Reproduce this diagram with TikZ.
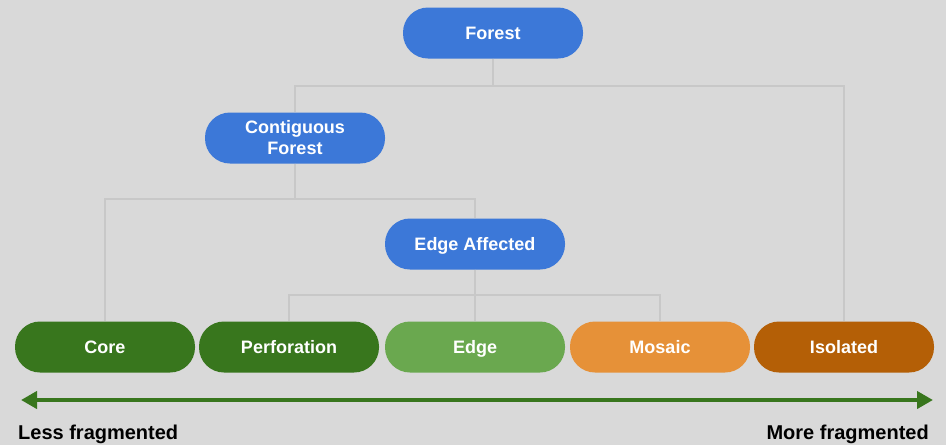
\documentclass[tikz,border=0pt]{standalone}
\usepackage{fontspec}
\setmainfont{Liberation Sans}
\usetikzlibrary{arrows.meta}
\definecolor{bg}{HTML}{D9D9D9}
\definecolor{cblue}{HTML}{3C78D8}
\definecolor{cdgreen}{HTML}{38761D}
\definecolor{clgreen}{HTML}{6AA84F}
\definecolor{corange}{HTML}{E69138}
\definecolor{cdorange}{HTML}{B45F06}
\definecolor{cline}{HTML}{C8C8C8}
\tikzset{
  pill/.style={rectangle, rounded corners=25pt, minimum width=180pt, minimum height=51pt,
    inner sep=2pt, text=white, align=center, font=\bfseries\fontsize{18}{21}\selectfont},
  one/.style={text height=13pt, text depth=0pt},
  conn/.style={draw=cline, line width=1.6pt},
  lbl/.style={inner sep=0pt, font=\bfseries\fontsize{20}{24}\selectfont, text=black},
}
\begin{document}
\begin{tikzpicture}[x=1pt,y=-1pt]
\fill[bg] (0,0) rectangle (946,445);
\useasboundingbox (0,0) rectangle (946,445);
\node[pill, one, fill=cblue] (forest) at (493,33) {Forest};
\node[pill, fill=cblue] (contig) at (295,138) {Contiguous\\Forest};
\node[pill, one, fill=cblue] (edgeaff) at (475,244) {Edge Affected};
\node[pill, one, fill=cdgreen] (core) at (105,347) {Core};
\node[pill, one, fill=cdgreen] (perf) at (289,347) {Perforation};
\node[pill, one, fill=clgreen] (edge) at (475,347) {Edge};
\node[pill, one, fill=corange] (mosaic) at (660,347) {Mosaic};
\node[pill, one, fill=cdorange] (isol) at (844,347) {Isolated};
\draw[conn] (forest.south) -- ++(0,27) -| (contig.north);
\draw[conn] (forest.south) -- ++(0,27) -| (isol.north);
\draw[conn] (contig.south) -- ++(0,35) -| (core.north);
\draw[conn] (contig.south) -- ++(0,35) -| (edgeaff.north);
\draw[conn] (edgeaff.south) -- ++(0,25) -| (perf.north);
\draw[conn] (edgeaff.south) -- (edge.north);
\draw[conn] (edgeaff.south) -- ++(0,25) -| (mosaic.north);
\coordinate (aL) at (21,400);
\coordinate (aR) at (933,400);
\draw[draw=cdgreen, line width=4.5pt, {Triangle[length=16pt,width=17pt]}-{Triangle[length=16pt,width=17pt]}] (aL) -- (aR);
\node[lbl, anchor=base west] (less) at (18,439) {Less fragmented};
\node[lbl, anchor=base east] (more) at (929,439) {More fragmented};
\end{tikzpicture}
\end{document}
